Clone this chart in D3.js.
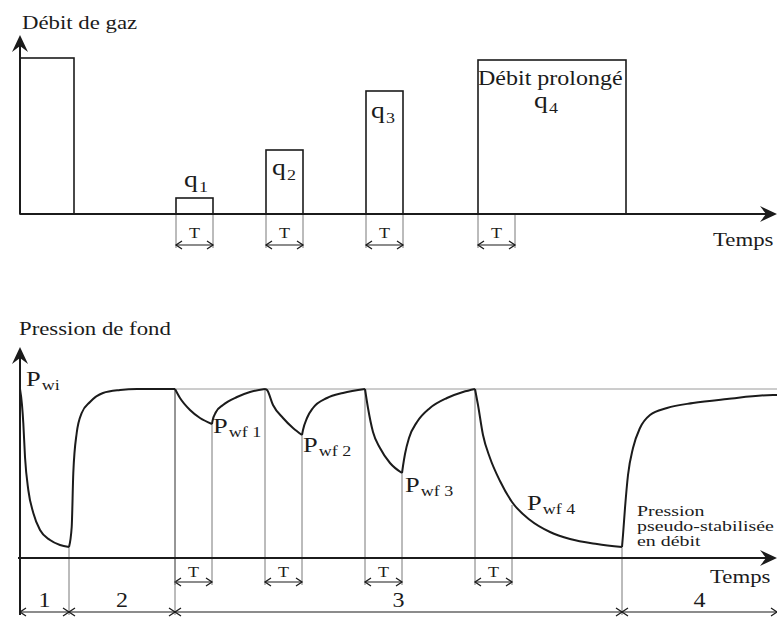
<!DOCTYPE html>
<html>
<head>
<meta charset="utf-8">
<script src="https://cdn.jsdelivr.net/npm/d3@7"></script>
<style>
  html, body { margin: 0; padding: 0; background: #fff; }
  svg { display: block; }
  text { font-family: "Liberation Serif", "Times New Roman", serif; fill: #1b1b1b; }
</style>
</head>
<body>
<script>
// ---- Time axis (arbitrary units) ----
const timeMax = 151.4;
const T = 7.4;                       // duration of each short flow test

// ---- Gas rate schedule (top panel) ----
const rateNames  = ["", "1", "2", "3", "4"];
const rateStart  = [0, 31.2, 49.2, 69.2, 91.6];
const rateEnd    = [10.8, 38.6, 56.6, 76.6, 121.2];
const rateValue  = [156, 16, 64, 123, 154];
const rateMax    = 179;

// ---- Bottom-hole pressure (bottom panel) ----
const Pwi = 169;
const pressureMax = 211;
const phaseBounds = [0, 9.8, 31, 120.4, 151.4];
const phaseLabels = ["1", "2", "3", "4"];
const flowStart   = [31, 49, 69, 91];
const pwfValues   = [134, 123, 85, 53];
const pwfNames    = ["wf 1", "wf 2", "wf 3", "wf 4"];

// pressure history, one array per flow / shut-in period: [time, pressure]
const drawdown0 = [[0,169],[0.4,153],[0.66,135],[1.0,101],[1.66,68],[2.66,45],[4,28],[6,18],[8,13],[9.8,11]];
const buildup0  = [[9.8,11],[10.34,31],[10.66,85],[11.34,125],[12.34,145],[14,156],[16.6,165],[20,168],[23.4,169],[31,169]];
const drawdown1 = [[31,169],[32,160],[34,148],[36,140],[38.4,134]];
const buildup1  = [[38.4,134],[38.5,137],[39.2,146],[40.6,153],[43.4,161],[46,166],[49,169]];
const drawdown2 = [[49,169],[49.4,168],[50.6,153],[52.6,140],[54.6,130],[56.4,123]];
const buildup2  = [[56.4,123],[56.6,128],[57.4,140],[58.6,150],[61.4,160],[64.6,165],[69,169]];
const drawdown3 = [[69,169],[69.6,150],[70.6,126],[72,110],[74,95],[76.4,85]];
const buildup3  = [[76.4,85],[76.6,92],[77.0,104],[77.8,120],[79.4,136],[82,150],[85.4,160],[88.6,166],[91,169]];
const drawdown4 = [[91,169],[91.6,153],[92.6,123],[94,100],[96,77],[98.4,56],[102,38],[106,26],[110,19],[115.4,14],[120.4,11]];
const buildup4  = [[120.4,11],[120.6,23],[121,50],[121.6,83],[122.6,110],[124,130],[126,143],[129.4,150],[134.6,155],[141.4,159],[150.6,163],[151.4,163]];
const pressureSegments = [drawdown0, buildup0, drawdown1, buildup1, drawdown2, buildup2, drawdown3, buildup3, drawdown4, buildup4];

// ---- Layout ----
const W = 777, H = 621;
const x = d3.scaleLinear().domain([0, timeMax]).range([20, 777]);
const yRate = d3.scaleLinear().domain([0, rateMax]).range([214, 35]);
const yP = d3.scaleLinear().domain([0, pressureMax]).range([558, 347]);
const tickBottomTop = 248, tArrowTop = 245;
const tickBottomLow = 585, tArrowLow = 582, phaseArrowY = 612;
const STRETCH = 1.2;
const INK = "#1b1b1b", THIN = "#6a6a6a";

const svg = d3.select("body").append("svg").attr("width", W).attr("height", H);
svg.append("rect").attr("width", W).attr("height", H).attr("fill", "#fff");

// text helper: slightly widened serif type, optional subscript part
function label(px, py, main, sub, size, subSize, anchor, stretch) {
  const t = svg.append("text")
    .attr("transform", `translate(${px},${py}) scale(${stretch || STRETCH},1)`)
    .attr("text-anchor", anchor || "start");
  t.append("tspan").attr("font-size", size).text(main);
  if (sub) t.append("tspan").attr("font-size", subSize).attr("dy", size * 0.2).attr("dx", 1).text(sub);
  return t;
}

// big axis arrow head (tip at px,py, direction angle in degrees)
function axisHead(px, py, angle) {
  svg.append("path")
    .attr("d", "M0,0 L-17,-8 L-11,0 L-17,8 Z")
    .attr("transform", `translate(${px},${py}) rotate(${angle})`)
    .attr("fill", INK);
}
// small open chevron
function chevron(px, py, dir) {
  svg.append("path")
    .attr("d", "M-6,-4 L0,0 L-6,4")
    .attr("transform", `translate(${px},${py}) rotate(${dir})`)
    .attr("fill", "none").attr("stroke", INK).attr("stroke-width", 1.3);
}
function dimArrow(t0, t1, py) {
  svg.append("line").attr("x1", x(t0)).attr("x2", x(t1)).attr("y1", py).attr("y2", py)
    .attr("stroke", INK).attr("stroke-width", 1.2);
  chevron(x(t0), py, 180);
  chevron(x(t1), py, 0);
}
function vline(t, yTop, yBot) {
  svg.append("line").attr("x1", x(t)).attr("x2", x(t)).attr("y1", yTop).attr("y2", yBot)
    .attr("stroke", THIN).attr("stroke-width", 0.9);
}

// ================= Top panel: gas rate =================
// T markers
rateStart.slice(1).forEach(s => {
  vline(s, yRate(0), tickBottomTop);
  vline(s + T, yRate(0), tickBottomTop);
  dimArrow(s, s + T, tArrowTop);
  label((x(s) + x(s + T)) / 2, 238, "T", null, 15, 0, "middle");
});

// rate bars
svg.append("g").selectAll("rect").data(rateValue).join("rect")
  .attr("x", (d, i) => x(rateStart[i]))
  .attr("width", (d, i) => x(rateEnd[i]) - x(rateStart[i]))
  .attr("y", d => yRate(d))
  .attr("height", d => yRate(0) - yRate(d))
  .attr("fill", "none").attr("stroke", INK).attr("stroke-width", 1.6);

// axes
svg.append("line").attr("x1", x(0)).attr("x2", x(0)).attr("y1", yRate(0)).attr("y2", yRate(rateMax) + 4)
  .attr("stroke", INK).attr("stroke-width", 2);
axisHead(x(0), yRate(rateMax), -90);
svg.append("line").attr("x1", x(0)).attr("x2", x(timeMax) - 4).attr("y1", yRate(0)).attr("y2", yRate(0))
  .attr("stroke", INK).attr("stroke-width", 2);
axisHead(x(timeMax), yRate(0), 0);

label(22, 29, "Débit de gaz", null, 19);
label(713, 246, "Temps", null, 19);

// bar labels
label(x(rateStart[1]) + 8, yRate(rateValue[1]) - 11, "q", rateNames[1], 23, 15);
label(x(rateStart[2]) + 6, yRate(rateValue[2]) + 25, "q", rateNames[2], 23, 15);
label(x(rateStart[3]) + 5, yRate(rateValue[3]) + 27, "q", rateNames[3], 23, 15);
label(x(rateStart[4]), yRate(rateValue[4]) + 25, "Débit prolongé", null, 20);
label(x(rateStart[4]) + 56, yRate(rateValue[4]) + 48, "q", rateNames[4], 23, 15);

// ================= Bottom panel: bottom-hole pressure =================
// initial pressure reference level
svg.append("line").attr("x1", x(phaseBounds[2])).attr("x2", x(timeMax))
  .attr("y1", yP(Pwi)).attr("y2", yP(Pwi))
  .attr("stroke", "#9a9a9a").attr("stroke-width", 1);

// T markers for the flow tests
flowStart.forEach((s, i) => {
  vline(s, yP(Pwi), tickBottomLow);
  vline(s + T, yP(pwfValues[i]), tickBottomLow);
  dimArrow(s, s + T, tArrowLow);
  label((x(s) + x(s + T)) / 2, 577, "T", null, 15, 0, "middle");
});

// phase boundaries
const pressureAt = t => {
  for (const seg of pressureSegments) for (const p of seg) if (Math.abs(p[0] - t) < 1e-6) return p[1];
  return Pwi;
};
phaseBounds.slice(1, -1).forEach(b => vline(b, yP(pressureAt(b)), phaseArrowY + 3));

// pressure curve
const line = d3.line().x(d => x(d[0])).y(d => yP(d[1])).curve(d3.curveMonotoneX);
svg.append("g").selectAll("path").data(pressureSegments).join("path")
  .attr("d", line).attr("fill", "none").attr("stroke", INK).attr("stroke-width", 2)
  .attr("stroke-linejoin", "round");

// axes
svg.append("line").attr("x1", x(0)).attr("x2", x(0)).attr("y1", phaseArrowY + 3).attr("y2", yP(pressureMax) + 4)
  .attr("stroke", INK).attr("stroke-width", 2);
axisHead(x(0), yP(pressureMax), -90);
svg.append("line").attr("x1", x(0) - 2).attr("x2", x(timeMax) - 4).attr("y1", yP(0)).attr("y2", yP(0))
  .attr("stroke", INK).attr("stroke-width", 2);
axisHead(x(timeMax), yP(0), 0);

// phase brackets
phaseLabels.forEach((lab, i) => {
  dimArrow(phaseBounds[i], phaseBounds[i + 1], phaseArrowY);
  label((x(phaseBounds[i]) + x(phaseBounds[i + 1])) / 2, 607, lab, null, 20, 0, "middle");
});

label(19, 335, "Pression de fond", null, 19);
label(710, 583, "Temps", null, 19);

// pressure labels
label(26, 386, "P", "wi", 22, 15);
const pwfTimes = flowStart.map(s => s + T);
const pwfOffsets = [[1, 9], [1, 17], [3, 19], [15, 5]];
pwfValues.forEach((v, i) => {
  label(x(pwfTimes[i]) + pwfOffsets[i][0], yP(v) + pwfOffsets[i][1], "P", pwfNames[i], 22, 15);
});

// note on the stabilised flowing pressure
const note = ["Pression", "pseudo-stabilisée", "en débit"];
note.forEach((s, i) => label(637, 516 + i * 15, s, null, 14, 0, "start", 1.42));
</script>
</body>
</html>
